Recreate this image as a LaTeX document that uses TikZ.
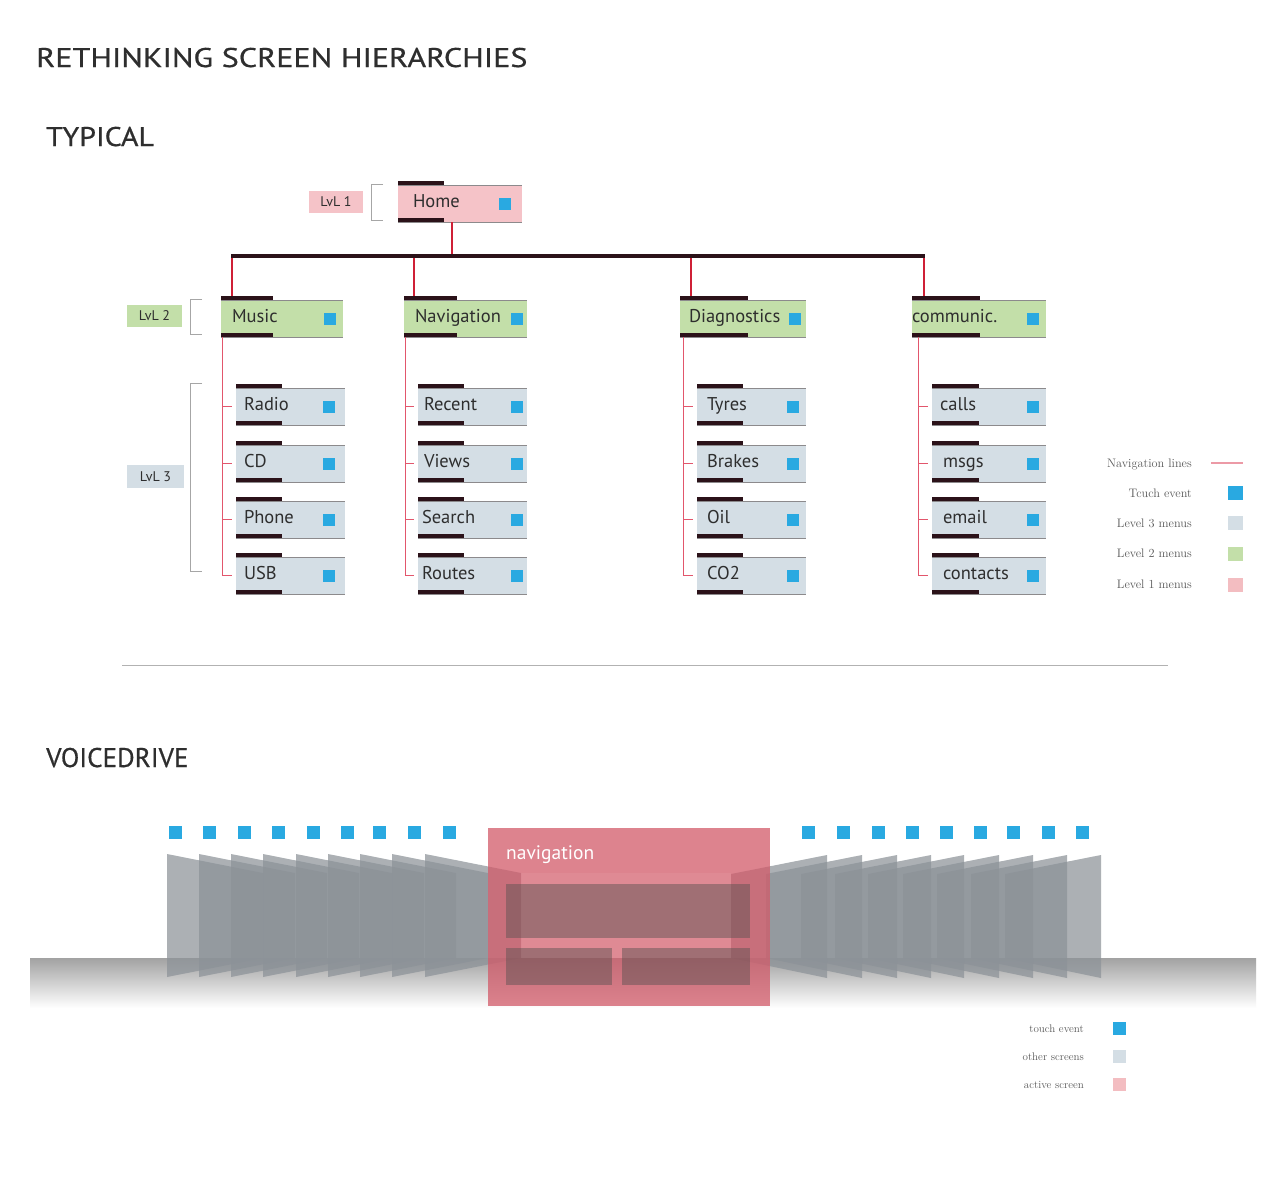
\documentclass[tikz,border=0pt]{standalone}
\usepackage{fontspec}
\newfontfamily\din{PT Sans}
\newfontfamily\dinhead[FakeBold=0.6]{PT Sans}
\usetikzlibrary{calc}
\definecolor{ink}{HTML}{2E2E2E}
\definecolor{lvlone}{HTML}{F5C3C8}
\definecolor{lvltwo}{HTML}{C3DFA9}
\definecolor{lvlthree}{HTML}{D4DEE5}
\definecolor{touch}{HTML}{29A9E1}
\definecolor{barcol}{HTML}{2B1219}
\definecolor{thin}{HTML}{8C8A8C}
\definecolor{navred}{HTML}{CF2036}
\definecolor{childred}{HTML}{E2566C}
\definecolor{legpink}{HTML}{EC9AA6}
\definecolor{legone}{HTML}{F3BDC1}
\definecolor{panelc}{HTML}{8C9298}
\definecolor{activec}{HTML}{D25A69}
\definecolor{innerc}{HTML}{55504F}
\definecolor{groundtop}{HTML}{A2A2A2}
\tikzset{
  menubg/.style={rectangle, inner sep=0pt, outer sep=0pt, minimum height=37pt, draw=none},
  menutext/.style={inner sep=0pt, outer sep=0pt, text=ink, font=\din\fontsize{18.5}{20}\selectfont},
  darkbar/.style={fill=barcol},
  thinline/.style={draw=thin, line width=0.9pt},
  sq/.style={rectangle, fill=touch, inner sep=0pt, minimum width=12pt, minimum height=12pt},
  sqb/.style={rectangle, inner sep=0pt, minimum width=13pt, minimum height=13pt},
  navline/.style={draw=navred, line width=1.2pt},
  childline/.style={draw=childred, line width=1pt},
  bracket/.style={draw=gray!70, line width=1pt},
  lvllabel/.style={rectangle, inner sep=0pt, text=ink, font=\din\fontsize{14}{16}\selectfont},
  legtext/.style={inner sep=0pt, text=black!65, font=\fontsize{11}{13}\selectfont},
  legtextb/.style={inner sep=0pt, text=black!65, font=\fontsize{12.3}{14}\selectfont},
  head/.style={inner sep=0pt, text=ink, anchor=base west, font=\dinhead\fontsize{27}{30}\selectfont},
  panel/.style={fill=panelc, fill opacity=0.72},
}
% #1 name, #2 left x, #3 top y, #4 width, #5 fill, #6 text pad, #7 text, #8 square left x, #9 bar length
\newcommand{\menubox}[9]{%
  \node[menubg, fill=#5, minimum width=#4pt, anchor=north west] (#1) at (#2,#3) {};
  \draw[thinline] (#1.north west) -- (#1.north east);
  \draw[thinline] (#1.south west) -- (#1.south east);
  \fill[darkbar] (#1.north west) rectangle ++(#9,-4.5);
  \fill[darkbar] (#1.south west) rectangle ++(#9,-4.5);
  \node[menutext, anchor=base west] (#1-t) at ($(#1.west)+(#6,4)$) {#7};
  \node[sq] (#1-s) at ($(#1.west)+(#8+6-#2,0)$) {};
}
\begin{document}
\begin{tikzpicture}[x=1pt,y=-1pt]
\fill[white] (0,0) rectangle (1280,1200);
\useasboundingbox (0,0) rectangle (1280,1200);

% headings
\node[head] (title) at (36,67) {\scalebox{1.19}[1]{RETHINKING SCREEN HIERARCHIES}};
\node[head] (typical) at (46,146) {\scalebox{1.11}[1]{TYPICAL}};
\node[head] (voice) at (46,767) {\scalebox{1.0}[1]{VOICEDRIVE}};

% bus bar
\node[fill=barcol, minimum width=694pt, minimum height=4.5pt, inner sep=0pt, outer sep=0pt, anchor=north west] (bus) at (231,253.5) {};

% home
\menubox{home}{398}{185}{124}{lvlone}{15}{Home}{499}{46}

% level 2
\menubox{music}{221}{300}{122}{lvltwo}{11}{Music}{324}{52}
\menubox{navi}{404}{300}{123}{lvltwo}{11}{Navigation}{511}{53}
\menubox{diag}{680}{300}{126}{lvltwo}{9}{Diagnostics}{789}{68}
\menubox{comm}{912}{300}{134}{lvltwo}{0}{communic.}{1027}{68}

% level 3
\menubox{radio}{236}{388}{109}{lvlthree}{8}{Radio}{323}{46}
\menubox{cd}{236}{445}{109}{lvlthree}{8}{CD}{323}{46}
\menubox{phone}{236}{501}{109}{lvlthree}{8}{Phone}{323}{46}
\menubox{usb}{236}{557}{109}{lvlthree}{8}{USB}{323}{46}

\menubox{recent}{418}{388}{109}{lvlthree}{6}{Recent}{511}{46}
\menubox{views}{418}{445}{109}{lvlthree}{6}{Views}{511}{46}
\menubox{search}{418}{501}{109}{lvlthree}{4}{Search}{511}{46}
\menubox{routes}{418}{557}{109}{lvlthree}{4}{Routes}{511}{46}

\menubox{tyres}{697}{388}{109}{lvlthree}{10}{Tyres}{787}{46}
\menubox{brakes}{697}{445}{109}{lvlthree}{10}{Brakes}{787}{46}
\menubox{oil}{697}{501}{109}{lvlthree}{10}{Oil}{787}{46}
\menubox{co2}{697}{557}{109}{lvlthree}{10}{CO2}{787}{46}

\menubox{calls}{932}{388}{114}{lvlthree}{8}{calls}{1027}{47}
\menubox{msgs}{932}{445}{114}{lvlthree}{11}{msgs}{1027}{47}
\menubox{email}{932}{501}{114}{lvlthree}{11}{email}{1027}{47}
\menubox{contacts}{932}{557}{114}{lvlthree}{11}{contacts}{1027}{47}

% home to bus
\coordinate (h1) at ($(home.south west)+(54,0)$);
\draw[navline] (h1) -- (h1 |- bus.north);

% bus to level 2
\foreach \n/\o in {music/11, navi/10, diag/11, comm/12}{
  \coordinate (b-\n) at ($(\n.north west)+(\o,-4.5)$);
  \draw[navline] (b-\n |- bus.south) -- (b-\n);
}

% level 2 to level 3
\foreach \p/\o/\a/\b/\c/\d in {music/1/radio/cd/phone/usb, navi/1/recent/views/search/routes, diag/3/tyres/brakes/oil/co2, comm/6/calls/msgs/email/contacts}{
  \coordinate (v-\p) at ($(\p.south west)+(\o,0)$);
  \draw[childline] (v-\p) -- (v-\p |- \d.west) -- ($(\d.west)+(-4,0)$);
  \foreach \k in {\a,\b,\c}{
    \draw[childline] (v-\p |- \k.west) -- ($(\k.west)+(-4,0)$);
  }
}

% level labels and brackets
\node[lvllabel, fill=lvlone, minimum width=54pt, minimum height=22pt] (l1) at (336,202) {LvL 1};
\node[lvllabel, fill=lvltwo, minimum width=55pt, minimum height=22pt] (l2) at (154.5,316) {LvL 2};
\node[lvllabel, fill=lvlthree, minimum width=57pt, minimum height=23pt] (l3) at (155.5,476.5) {LvL 3};
\draw[bracket] (383,184) -- (371,184) -- (371,220) -- (383,220);
\draw[bracket] (202,299) -- (190,299) -- (190,334) -- (202,334);
\draw[bracket] (202,383) -- (190,383) -- (190,571) -- (202,571);

% top legend
\node[legtextb, anchor=base east] (lg1) at (1192,467) {Navigation lines};
\node[legtextb, anchor=base east] (lg2) at (1192,497) {Tcuch event};
\node[legtextb, anchor=base east] (lg3) at (1192,527) {Level 3 menus};
\node[legtextb, anchor=base east] (lg4) at (1192,557) {Level 2 menus};
\node[legtextb, anchor=base east] (lg5) at (1192,588) {Level 1 menus};
\coordinate (lgl1) at (1211,463);
\coordinate (lgl2) at (1243,463);
\draw[draw=legpink, line width=1.2pt] (lgl1) -- (lgl2);
\node[sqb, fill=touch, minimum width=15pt, minimum height=14pt] (ls2) at (1235.5,493) {};
\node[sqb, fill=lvlthree, minimum width=15pt, minimum height=14pt] (ls3) at (1235.5,523) {};
\node[sqb, fill=lvltwo, minimum width=15pt, minimum height=14pt] (ls4) at (1235.5,553.5) {};
\node[sqb, fill=legone, minimum width=15pt, minimum height=14pt] (ls5) at (1235.5,584.5) {};

% separator
\draw[draw=gray!60, line width=0.8pt] (122,665) -- (1168,665);

% ===== VOICEDRIVE =====
\shade[top color=groundtop, bottom color=white] (30,958) rectangle (1256,1008);

\foreach \x in {167,199,231,263,296,328,360,392,425}{
  \fill[panel] (\x,854) -- (\x+96,873) -- (\x+96,958) -- (\x,977) -- cycle;
}
\foreach \x in {1101,1067,1033,999,964,931,897,862,827}{
  \fill[panel] (\x,855) -- (\x-96,874) -- (\x-96,958) -- (\x,978) -- cycle;
}

\foreach \x [count=\i] in {169,203,238,272,307,341,373,408,443}{
  \node[sqb, fill=touch, anchor=north west] (tl\i) at (\x,826) {};
}
\foreach \x [count=\i] in {802,837,872,906,940,974,1007,1042,1076}{
  \node[sqb, fill=touch, anchor=north west] (tr\i) at (\x,826) {};
}

% active screen
\node[rectangle, fill=activec, fill opacity=0.75, minimum width=282pt, minimum height=178pt, inner sep=0pt, anchor=north west] (active) at (488,828) {};
\fill[white, fill opacity=0.06] (521,873) rectangle (731,958);
\node[inner sep=0pt, anchor=base west, text=white, font=\din\fontsize{19.5}{22}\selectfont] (navlbl) at (506,859) {navigation};
\fill[innerc, fill opacity=0.45] (506,884) rectangle (750,938);
\fill[innerc, fill opacity=0.45] (506,948) rectangle (612,985);
\fill[innerc, fill opacity=0.45] (622,948) rectangle (750,985);

% bottom legend
\node[legtext, anchor=base east] (bg1) at (1084,1032) {touch event};
\node[legtext, anchor=base east] (bg2) at (1084,1060) {other screens};
\node[legtext, anchor=base east] (bg3) at (1084,1088) {active screen};
\node[sqb, fill=touch, anchor=north west] (bs1) at (1113,1022) {};
\node[sqb, fill=lvlthree, anchor=north west] (bs2) at (1113,1050) {};
\node[sqb, fill=legone, anchor=north west] (bs3) at (1113,1078) {};
\end{tikzpicture}
\end{document}
